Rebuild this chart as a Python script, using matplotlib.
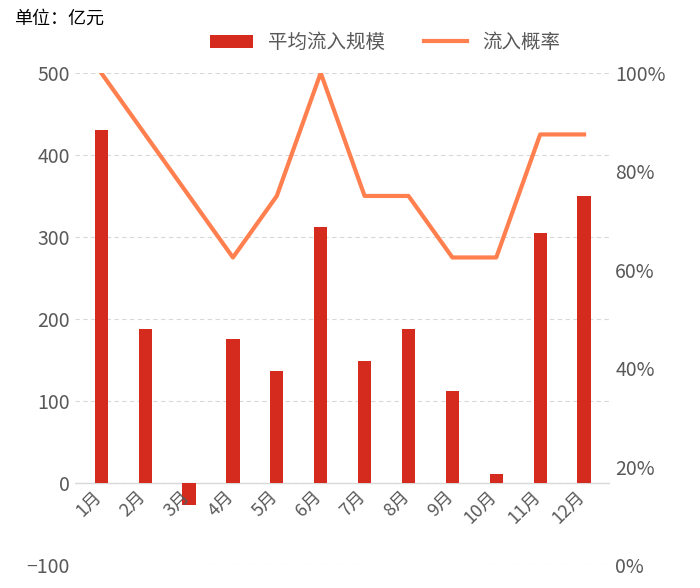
import matplotlib.pyplot as plt
import numpy as np

plt.rcParams['font.family'] = ['Noto Sans CJK SC', 'DejaVu Sans']

months = ["1月", "2月", "3月", "4月", "5月", "6月", "7月", "8月", "9月", "10月", "11月", "12月"]
inflow = [430, 188, -27, 176, 137, 312, 149, 188, 112, 11, 305, 350]
prob = [100, 87.5, 75, 62.5, 75, 100, 75, 75, 62.5, 62.5, 87.5, 87.5]

x = np.arange(len(months))
fig, ax = plt.subplots(figsize=(7, 5.88), dpi=100)
fig.subplots_adjust(left=0.107, right=0.872, top=0.876, bottom=0.039)

b = ax.bar(x, inflow, width=0.3, color='#D52B1E', label='平均流入规模', zorder=3)
ax.set_ylim(-100, 500)
ax.set_yticks(range(-100, 501, 100))
ax.set_xlim(-0.6, 11.6)
ax.grid(axis='y', linestyle=(0, (4, 3)), color='#D9D9D9', linewidth=0.8, zorder=0)
ax.axhline(0, color='#D9D9D9', linewidth=1, zorder=1)
ax.set_xticks(x)
ax.set_xticklabels([])
for i, m in enumerate(months):
    ax.text(i + 0.1, -5, m, rotation=45, ha='right', va='top', fontsize=13, color='#595959')
ax.tick_params(length=0, labelsize=14, colors='#595959')
for s in ax.spines.values():
    s.set_visible(False)

ax2 = ax.twinx()
l, = ax2.plot(x, prob, color='#FF7F4F', linewidth=3, label='流入概率', zorder=4)
ax2.set_ylim(0, 100)
ax2.set_yticks(range(0, 101, 20))
ax2.set_yticklabels([f"{v}%" for v in range(0, 101, 20)])
ax2.tick_params(length=0, labelsize=14, colors='#595959')
for s in ax2.spines.values():
    s.set_visible(False)

fig.legend(handles=[b, l], loc='upper center', bbox_to_anchor=(0.55, 0.975), ncol=2,
           frameon=False, fontsize=14, labelcolor='#595959', handlelength=2.2)
fig.text(0.02, 0.96, "单位：亿元", fontsize=13, color='#000000')

fig.savefig("out.png", dpi=100)
